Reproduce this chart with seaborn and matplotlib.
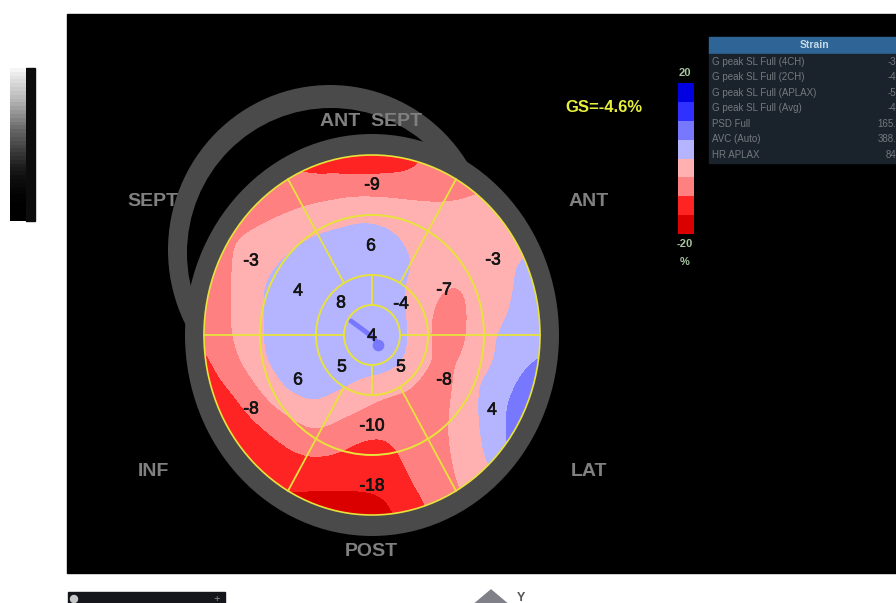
import numpy as np
import matplotlib
matplotlib.use('Agg')
import matplotlib.pyplot as plt
import matplotlib.patheffects as pe
from matplotlib.patches import Ellipse, Rectangle, Circle
from matplotlib.colors import ListedColormap
import seaborn as sns

# strain colour scale, top of the legend first
scale_colors = ['#0000e0', '#3030ff', '#7878ff', '#b4b4ff', '#ffb0b0', '#ff8080', '#ff2424', '#da0000']
scale_values = [17.5, 12.5, 7.5, 2.5, -2.5, -7.5, -12.5, -17.5]
levels = [-20, -15, -10, -5, 0, 5, 10, 15, 20]

grid_x = [192, 216, 240, 264, 288, 312, 336, 360, 384, 408, 432, 456, 480, 504, 528, 552]
grid_y = [144, 168, 192, 216, 240, 264, 288, 312, 336, 360, 384, 408, 432, 456, 480, 504, 528]
strain = [
    [-7, -7, -7, -8, -14, -14, -14, -14, -14, -14, -9, -7, -7, -7, -7, -7],
    [-7, -7, -7, -7, -9.5, -11.5, -11.5, -12, -11.5, -11, -8, -7, -7, -7, -7, -7],
    [-8, -8, -8, -8, -7.5, -6.5, -5.8, -5.8, -6, -6, -6.2, -6, -5, -4, -4, -4],
    [-8, -8, -7.5, -6, -4.6, -3.5, -3, -1, -1.5, -3, -3.5, -3.5, -3.5, -3.5, -3.5, -3.5],
    [-8, -7, -4.5, -3, -1.5, 0.6, 2.5, 3, 2, -0.7, -3, -3, -3, -3, -2, -2],
    [-8, -7, -4, -1.5, 1, 3, 3, 3, 3, 0.5, -2, -2.5, -3, -1.5, 1.5, 2],
    [-8, -7, -4, 0.2, 3, 3, 3, 3, 2.5, -0.5, -4, -6, -3, -1.5, 2, 2],
    [-8, -7, -4, 0.2, 3, 3, 3, 3, 3, -0.2, -5.5, -7, -3, -0.7, 2.5, 3],
    [-10, -7, -4, 0.2, 3, 3, 3, 3, 3, 0.5, -6, -7.5, -2, 1, 2.5, 3],
    [-13, -9, -5, -0.2, 3, 3, 3, 3, 3, -0.5, -5.5, -5.5, -2.5, 1.5, 4.5, 6],
    [-15, -11, -8, -3.5, 1.5, 3, 1.5, -1, -2.5, -4, -7.5, -5, 0.5, 3, 7, 8],
    [-16, -14, -10.5, -7, -3.5, -1, -3, -4.5, -7, -7.5, -8, -4, 0.3, 4.5, 9, 9],
    [-17, -14.5, -13, -10.5, -8, -5.2, -6.5, -9, -9.5, -8, -8, -3.5, -0.3, 4.8, 9, 9],
    [-17, -15.5, -14, -13, -11, -10, -10.5, -12, -12, -9, -7.5, -4.5, -1, 4, 9, 9],
    [-17, -15.5, -14, -13.5, -13, -13, -13, -13, -13, -10.3, -7.5, -5, -3, 1, 8, 8],
    [-17, -16, -16, -16, -17, -17.5, -17.5, -17.5, -16, -12, -9.5, -6, -3, 1, 8, 8],
    [-18, -18, -18, -18, -18, -18, -18, -18, -18, -13, -9, -6, -3, 1, 8, 8],
]

# segment readings
seg_labels = ['-9', '-3', '-3', '6', '4', '-7', '8', '-4', '4', '5', '5', '6', '-8', '-8', '4', '-10', '-18']
seg_x = [372, 251, 493, 371, 298, 444, 341, 401, 372, 342, 401, 298, 251, 444, 492, 372, 372]
seg_y = [185, 261, 260, 246, 291, 290, 303, 304, 336, 367, 367, 380, 409, 380, 410, 426, 486]

wall_labels = ['ANT  SEPT', 'SEPT', 'ANT', 'INF', 'LAT', 'POST']
wall_x = [371, 153, 589, 153, 589, 371]
wall_y = [121, 201, 201, 471, 471, 551]

table_rows = ['G peak SL Full (4CH)', 'G peak SL Full (2CH)', 'G peak SL Full (APLAX)',
              'G peak SL Full (Avg)', 'PSD Full', 'AVC (Auto)', 'HR APLAX']
table_vals = ['-3', '-4', '-5', '-4', '165.', '388.', '84']
table_y = [62, 77, 93, 108, 124, 139, 155]

# centre streak of stronger strain
streak_x = [351, 362, 374, 378]
streak_y = [321, 329, 338, 345]

gray_ramp = [0.96, 0.92, 0.89, 0.86, 0.83, 0.80, 0.77, 0.74, 0.71, 0.67, 0.63, 0.59, 0.55, 0.51, 0.47,
             0.43, 0.39, 0.36, 0.33, 0.30, 0.27, 0.24, 0.21, 0.18, 0.15, 0.12, 0.10, 0.08, 0.06, 0.05,
             0.04, 0.03, 0.02, 0.01, 0.01, 0.0, 0.0, 0.0, 0.0, 0.0]

W, H = 896, 603
cx, cy, rx, ry = 372, 335, 168, 180

sns.set_theme(style='white')
plt.rcParams['font.family'] = ['Liberation Sans', 'DejaVu Sans']

fig = plt.figure(figsize=(W / 100, H / 100), dpi=100, facecolor='white')
ax = fig.add_axes([0, 0, 1, 1])
ax.set_xlim(0, W)
ax.set_ylim(H, 0)
ax.axis('off')


def inset(x0, y0, x1, y1):
    a = fig.add_axes([x0 / W, 1 - y1 / H, (x1 - x0) / W, (y1 - y0) / H])
    return a


def soften(xs, ys, z, step=3, win=7):
    # finer mesh for the contours, so the bands come out rounded
    fx = np.arange(xs[0], xs[-1] + 1, step)
    fy = np.arange(ys[0], ys[-1] + 1, step)
    z = np.array(z, dtype=float)
    by_x = np.array([np.interp(fx, xs, row) for row in z])
    fine = np.array([np.interp(fy, ys, col) for col in by_x.T]).T
    k = np.ones(win) / win
    pad = win // 2
    for _ in range(2):
        fine = np.pad(fine, pad, mode='edge')
        fine = np.apply_along_axis(lambda v: np.convolve(v, k, mode='valid'), 0, fine)
        fine = np.apply_along_axis(lambda v: np.convolve(v, k, mode='valid'), 1, fine)
    return fx, fy, fine


# black panel and the rest of the screen grab
ax.add_patch(Rectangle((67, 14), W - 67, 559, color='black', zorder=1))
ax.add_patch(Rectangle((68, 592), 157, 12, color='#14161c', zorder=1))
ax.add_patch(Circle((74, 599), 3.5, color='#c8c8c8', zorder=2))
ax.text(217, 599, '+', color='#909090', fontsize=8, ha='center', va='center', zorder=2)
ax.add_patch(plt.Polygon([(472, 606), (491, 590), (510, 606)], color='#808088', zorder=2))
ax.text(521, 598, 'Y', color='#555555', fontsize=9, fontweight='bold', ha='center', va='center', zorder=2)

# grey walls: crescent behind, ring round the map
ax.add_patch(Ellipse((330, 250), 324, 330, color='#4a4a4a', zorder=2, lw=0))
ax.add_patch(Ellipse((331, 253), 288, 290, color='black', zorder=2.1, lw=0))
ax.add_patch(Ellipse((cx, cy), 374, 402, color='#4a4a4a', zorder=2.2, lw=0))

# strain map
fx, fy, fine = soften(grid_x, grid_y, strain)
cs = ax.contourf(fx, fy, fine, levels=levels, colors=scale_colors[::-1], zorder=3)
clip = Ellipse((cx, cy), 2 * rx, 2 * ry, transform=ax.transData, facecolor='none', edgecolor='none')
ax.add_patch(clip)
cs.set_clip_path(clip)
ax.plot(streak_x, streak_y, color='#7878ff', lw=3.5, solid_capstyle='round', zorder=3.5)
ax.scatter([378], [345], s=70, color='#7878ff', lw=0, zorder=3.5)

# segment grid
yellow = '#e8e23c'
for f, lw in zip([1, 2 / 3, 1 / 3, 1 / 6], [1.2, 1.4, 1.4, 1.4]):
    ax.add_patch(Ellipse((cx, cy), 2 * rx * f, 2 * ry * f, fill=False, edgecolor=yellow, lw=lw, zorder=4))
for deg in [0, 60, 120, 180, 240, 300]:
    t = np.radians(deg)
    r0 = 1 / 6 if deg in (0, 180) else 1 / 3
    ax.plot([cx + rx * r0 * np.cos(t), cx + rx * np.cos(t)],
            [cy - ry * r0 * np.sin(t), cy - ry * np.sin(t)], color=yellow, lw=1.3, zorder=4)
for deg in [90, 270]:
    t = np.radians(deg)
    ax.plot([cx, cx], [cy - ry / 6 * np.sin(t), cy - ry / 3 * np.sin(t)], color=yellow, lw=1.3, zorder=4)

thick = [pe.withStroke(linewidth=0.5, foreground='#141414')]
for s, x, y in zip(seg_labels, seg_x, seg_y):
    ax.text(x, y, s, color='#141414', fontsize=12.5, ha='center', va='center', zorder=5, path_effects=thick)
for s, x, y in zip(wall_labels, wall_x, wall_y):
    ax.text(x, y, s, color='#808080', fontsize=14, fontweight='bold', ha='center', va='center', zorder=5)

ax.text(604, 107, 'GS=-4.6%', color='#e6f03c', fontsize=12, fontweight='bold', ha='center', va='center', zorder=5)

# colour legend
leg = inset(678, 83, 694, 234)
sns.heatmap(np.array(scale_values).reshape(-1, 1), ax=leg, cmap=ListedColormap(scale_colors[::-1]),
            vmin=-20, vmax=20, cbar=False, xticklabels=False, yticklabels=False)
for s, y in zip(['20', '-20', '%'], [73, 244, 262]):
    ax.text(685, y, s, color='#a8c4a0', fontsize=8, fontweight='bold', ha='center', va='center', zorder=5)

# table
ax.add_patch(Rectangle((709, 37), W - 709, 17, color='#2f6596', zorder=3))
ax.add_patch(Rectangle((709, 54), W - 709, 109, color='#1a222c', zorder=3))
ax.text(815, 45.5, 'Strain', color='#c4d8e6', fontsize=7.5, fontweight='bold', ha='center', va='center', zorder=5)
for name, val, y in zip(table_rows, table_vals, table_y):
    ax.text(712, y, name, color='#75797e', fontsize=7, ha='left', va='center', zorder=5)
    ax.text(896, y, val, color='#75797e', fontsize=7, ha='right', va='center', zorder=5, clip_on=True)

# grey ramp on the left
ramp = inset(10, 68, 26, 221)
sns.heatmap(np.array(gray_ramp).reshape(-1, 1), ax=ramp, cmap='gray', vmin=0, vmax=1,
            cbar=False, xticklabels=False, yticklabels=False)
ax.add_patch(Rectangle((26, 68), 9, 153, color='#0c0c0c', zorder=3))

fig.savefig('out.png', dpi=100, facecolor='white')
